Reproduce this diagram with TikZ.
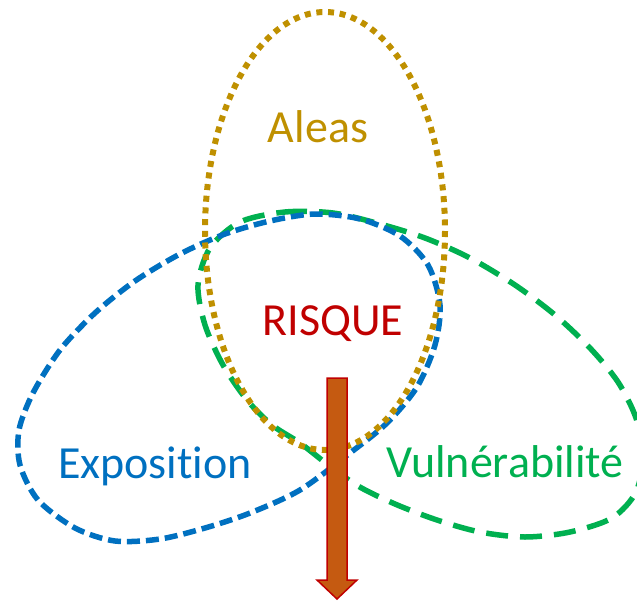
\documentclass[tikz,border=0pt]{standalone}
\usepackage{fontspec}
\setmainfont{Carlito}[Ligatures=NoCommon]
\usepackage{tikz}
\usetikzlibrary{calc}
\definecolor{aleasgold}{HTML}{BF9000}
\definecolor{expoblue}{HTML}{0070C0}
\definecolor{vulngreen}{HTML}{00B050}
\definecolor{risquered}{HTML}{C00000}
\definecolor{flecheorange}{HTML}{C55A11}

\begin{document}
\begin{tikzpicture}[x=1pt,y=-1pt,
		aleasline/.style={draw=aleasgold,line width=6pt,dash pattern=on 6pt off 5.7pt},
		expoline/.style={draw=expoblue,line width=5.5pt,dash pattern=on 13pt off 6pt},
		vulnline/.style={draw=vulngreen,line width=5.5pt,dash pattern=on 22pt off 12pt},
		lbl/.style={anchor=base,font=\fontsize{46}{54}\selectfont}]
			\useasboundingbox (0,0) rectangle (637,600);
			\begin{scope}
				\clip (0,0) rectangle (637,600);
				
				\draw[vulnline] plot[smooth cycle] coordinates {(240,222) (285,212) (333,213) (380,224) (425,238) (470,258) (515,285) (555,315) (590,348) (618,382) (636,418) (643,455) (636,492) (612,518) (570,532) (525,537) (480,532) (437,520) (395,504) (358,486) (327,464) (300,443) (272,425) (247,400) (223,365) (205,325) (198,285) (210,248)};
				
				\draw[expoline] plot[smooth cycle] coordinates {(19,430) (33,393) (60,350) (95,313) (135,281) (180,254) (225,234) (270,221) (315,214) (360,219) (400,236) (428,265) (440,305) (435,345) (417,387) (387,423) (350,453) (300,490) (250,513) (205,528) (160,539) (115,541) (75,528) (38,500) (20,465)};
				
				\draw[aleasline] (325,231) ellipse [x radius=120, y radius=219];
			\end{scope}
			
			\node[lbl,text=aleasgold] (aleas) at (318,142) {Aleas};
			\node[lbl,text=risquered] (risque) at (333,335) {RISQUE};
			\node[lbl,text=expoblue] (expo) at (155,478) {Exposition};
			\node[lbl,text=vulngreen] (vuln) at (505,477) {Vulnérabilité};
			
			\coordinate (flecheHaut) at (337,378);
			\coordinate (flecheBas) at (337,599);
			\filldraw[fill=flecheorange,draw=risquered,line width=1.5pt,line join=miter]
				($(flecheHaut)+(-10,0)$) -- ($(flecheHaut)+(10,0)$) -- ($(flecheBas)+(10,-19)$) -- ($(flecheBas)+(20,-19)$)
				-- (flecheBas) -- ($(flecheBas)+(-20,-19)$) -- ($(flecheBas)+(-10,-19)$) -- cycle;
		\end{tikzpicture}
\end{document}
